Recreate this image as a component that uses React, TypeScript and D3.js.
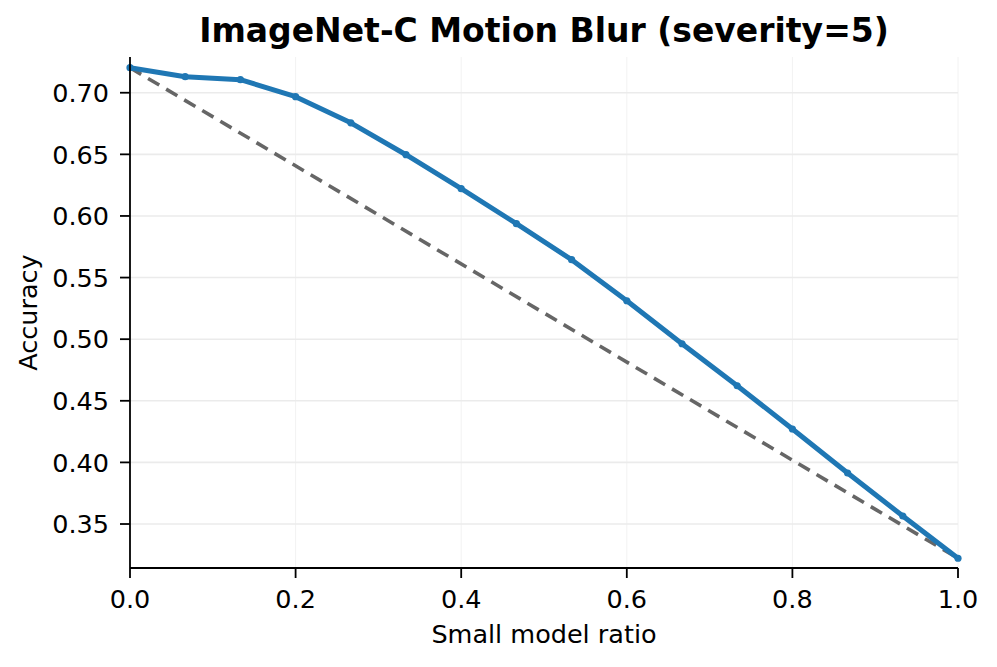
import React from "react";
import * as d3 from "d3";

const ratios: number[] = [
  0, 1 / 15, 2 / 15, 3 / 15, 4 / 15, 5 / 15, 6 / 15, 7 / 15, 8 / 15, 9 / 15,
  10 / 15, 11 / 15, 12 / 15, 13 / 15, 14 / 15, 1,
];
const accuracy: number[] = [
  0.7203, 0.713, 0.7106, 0.6968, 0.6756, 0.6497, 0.6221, 0.5937, 0.5645,
  0.5312, 0.4963, 0.4622, 0.4271, 0.3914, 0.3565, 0.3222,
];
const xTicks: number[] = [0, 0.2, 0.4, 0.6, 0.8, 1.0];
const yTicks: number[] = [0.35, 0.4, 0.45, 0.5, 0.55, 0.6, 0.65, 0.7];

const W = 997;
const H = 667;
const margin = { left: 130, right: 39, top: 57, bottom: 99 };

const App: React.FC = () => {
  const x = d3.scaleLinear().domain([0, 1]).range([margin.left, W - margin.right]);
  const y = d3.scaleLinear().domain([0.3143, 0.729]).range([H - margin.bottom, margin.top]);

  const pts = ratios.map((r, i) => ({ r, a: accuracy[i] }));
  const line = d3
    .line<{ r: number; a: number }>()
    .x((d) => x(d.r))
    .y((d) => y(d.a));
  const first = pts[0];
  const last = pts[pts.length - 1];
  const baseline = line([first, last]) || "";

  const font = "'DejaVu Sans', sans-serif";
  const x0 = margin.left;
  const x1 = W - margin.right;
  const y0 = H - margin.bottom;
  const y1 = margin.top;

  return (
    <svg width={W} height={H} style={{ display: "block", margin: "-8px" }} fontFamily={font}>
      <rect width={W} height={H} fill="#fff" />
      {xTicks.map((t) => (
        <line key={"gx" + t} x1={x(t)} x2={x(t)} y1={y0} y2={y1} stroke="#f2f2f2" strokeWidth={1} />
      ))}
      {yTicks.map((t) => (
        <line key={"gy" + t} x1={x0} x2={x1} y1={y(t)} y2={y(t)} stroke="#ebebeb" strokeWidth={1.6} />
      ))}
      <path d={baseline} fill="none" stroke="#666" strokeWidth={3.6} strokeDasharray="13 8" />
      <path d={line(pts) || ""} fill="none" stroke="#1f77b4" strokeWidth={5} strokeLinejoin="round" />
      {pts.map((p, i) => (
        <circle key={i} cx={x(p.r)} cy={y(p.a)} r={3.6} fill="#1f77b4" />
      ))}
      <line x1={x0} x2={x0} y1={y0} y2={y1} stroke="#000" strokeWidth={1.8} />
      <line x1={x0} x2={x1} y1={y0} y2={y0} stroke="#000" strokeWidth={1.8} />
      {xTicks.map((t) => (
        <g key={"tx" + t}>
          <line x1={x(t)} x2={x(t)} y1={y0} y2={y0 + 10} stroke="#000" strokeWidth={1.8} />
          <text x={x(t)} y={y0 + 40} textAnchor="middle" fontSize={25.5}>
            {t.toFixed(1)}
          </text>
        </g>
      ))}
      {yTicks.map((t) => (
        <g key={"ty" + t}>
          <line x1={x0 - 10} x2={x0} y1={y(t)} y2={y(t)} stroke="#000" strokeWidth={1.8} />
          <text x={x0 - 21} y={y(t)} dy="0.36em" textAnchor="end" fontSize={25.5}>
            {t.toFixed(2)}
          </text>
        </g>
      ))}
      <text x={(x0 + x1) / 2} y={643} textAnchor="middle" fontSize={25.5}>
        Small model ratio
      </text>
      <text transform={`translate(37,${(y0 + y1) / 2}) rotate(-90)`} textAnchor="middle" fontSize={25.5}>
        Accuracy
      </text>
      <text x={(x0 + x1) / 2} y={42} textAnchor="middle" fontSize={33} fontWeight="bold">
        ImageNet-C Motion Blur (severity=5)
      </text>
    </svg>
  );
};

export default App;
